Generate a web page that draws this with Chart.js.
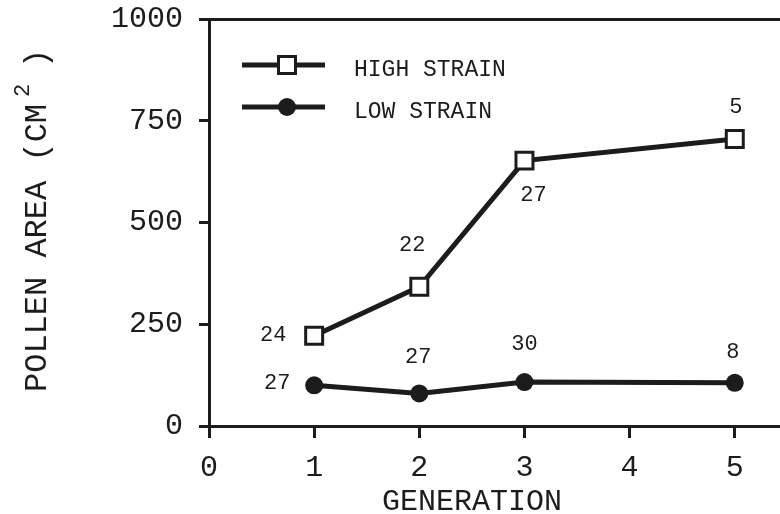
<!DOCTYPE html>
<html>
<head>
<meta charset="utf-8">
<script src="https://cdn.jsdelivr.net/npm/chart.js@4.4.1/dist/chart.umd.min.js"></script>
<style>
    html, body { margin: 0; padding: 0; background: #fff; }
    #wrap { width: 780px; height: 514px; position: relative; }
</style>
</head>
<body>
<div id="wrap"><canvas id="pollen-chart"></canvas></div>
<script>
// generations sampled and mean pollen area per strain
const generations = [1, 2, 3, 5];
const highStrain = [222, 342, 652, 705];
const lowStrain = [100, 80, 108, 106];
// sample sizes printed next to the points
const highN = ["24", "22", "27", "5"];
const lowN = ["27", "27", "30", "8"];
const xTicks = [0, 1, 2, 3, 4, 5];
const yTicks = [0, 250, 500, 750, 1000];

const INK = "#1c1c1c";
const MONO = "'Liberation Mono', 'DejaVu Sans Mono', monospace";

// offset (px) of each sample-size label from its point
const highLabelPos = [[-41, 0], [-7, -42], [9, 35], [1, -32]];
const lowLabelPos = [[-37, -2], [-1, -36], [0, -38], [-2, -31]];

const extras = {
    id: "extras",
    afterDatasetsDraw(chart) {
        const ctx = chart.ctx;
        const xs = chart.scales.x, ys = chart.scales.y;
        const area = chart.chartArea;
        ctx.save();
        ctx.fillStyle = INK;

        //sample size labels
        ctx.font = "22px " + MONO;
        ctx.textAlign = "center";
        ctx.textBaseline = "middle";
        const put = (vals, labels, pos) => vals.forEach((v, i) => {
            ctx.fillText(labels[i], xs.getPixelForValue(generations[i]) + pos[i][0], ys.getPixelForValue(v) + pos[i][1]);
        });
        put(highStrain, highN, highLabelPos);
        put(lowStrain, lowN, lowLabelPos);

        //legend inside the plot
        chart.data.datasets.forEach((ds, i) => {
            const y = area.top + 46 + i * 42;
            const x0 = area.left + 33, x1 = area.left + 116, xm = area.left + 78;
            ctx.strokeStyle = INK;
            ctx.lineWidth = 5;
            ctx.beginPath();
            ctx.moveTo(x0, y);
            ctx.lineTo(x1, y);
            ctx.stroke();
            if (ds.pointStyle === "rect") {
                ctx.fillStyle = "#fff";
                ctx.lineWidth = 3;
                ctx.fillRect(xm - 8.5, y - 8.5, 17, 17);
                ctx.strokeRect(xm - 8.5, y - 8.5, 17, 17);
            } else {
                ctx.fillStyle = INK;
                ctx.beginPath();
                ctx.arc(xm, y, 9, 0, Math.PI * 2);
                ctx.fill();
            }
            ctx.fillStyle = INK;
            ctx.font = "23px " + MONO;
            ctx.textAlign = "left";
            ctx.fillText(ds.label, area.left + 145, y + 5);
        });

        // x title, centred under the 0..5 range
        ctx.font = "30px " + MONO;
        ctx.textAlign = "center";
        ctx.fillText("GENERATION", xs.getPixelForValue(2.5), 502);

        // y title with superscript
        ctx.translate(38, 392);
        ctx.rotate(-Math.PI / 2);
        ctx.textAlign = "left";
        ctx.font = "32px " + MONO;
        const main = "POLLEN AREA (CM";
        ctx.fillText(main, 0, 0);
        const w = ctx.measureText(main).width;
        ctx.font = "22px " + MONO;
        ctx.fillText("2", w + 7, -15);
        ctx.font = "32px " + MONO;
        ctx.fillText(")", w + 36, 0);
        ctx.restore();
    }
};

new Chart(document.getElementById("pollen-chart"), {
    type: "line",
    data: {
        datasets: [{
            label: "HIGH STRAIN",
            data: generations.map((g, i) => ({ x: g, y: highStrain[i] })),
            borderColor: INK,
            borderWidth: 5,
            pointStyle: "rect",
            pointRadius: 12,
            pointBorderWidth: 3,
            pointBackgroundColor: "#fff",
            pointBorderColor: INK
        }, {
            label: "LOW STRAIN",
            data: generations.map((g, i) => ({ x: g, y: lowStrain[i] })),
            borderColor: INK,
            borderWidth: 5,
            pointStyle: "circle",
            pointRadius: 9,
            pointBorderWidth: 0,
            pointBackgroundColor: INK
        }]
    },
    options: {
        responsive: true,
        maintainAspectRatio: false,
        animation: false,
        layout: { autoPadding: false, padding: { top: 19, left: 0, right: 0, bottom: 0 } },
        scales: {
            x: {
                type: "linear",
                min: 0,
                max: 5.43,
                afterBuildTicks: (s) => { s.ticks = xTicks.map(v => ({ value: v })); },
                afterFit: (s) => { s.height = 88; s.paddingLeft = 0; s.paddingRight = 0; },
                ticks: { color: INK, font: { family: MONO, size: 30 }, padding: 12, callback: (v) => String(v) },
                grid: { drawOnChartArea: false, tickLength: 12, tickColor: INK, lineWidth: 3, tickWidth: 3 },
                border: { display: true, color: INK, width: 3 }
            },
            y: {
                min: 0,
                max: 1000,
                afterBuildTicks: (s) => { s.ticks = yTicks.map(v => ({ value: v })); },
                afterFit: (s) => { s.width = 209; s.paddingTop = 0; s.paddingBottom = 0; },
                ticks: { color: INK, font: { family: MONO, size: 30 }, padding: 16, callback: (v) => String(v) },
                grid: {
                    color: (c) => (c.tick && c.tick.value === 1000 ? INK : "rgba(0,0,0,0)"),
                    tickColor: INK,
                    tickLength: 10,
                    lineWidth: 3,
                    tickWidth: 3
                },
                border: { display: true, color: INK, width: 3 }
            }
        },
        plugins: {
            legend: { display: false },
            tooltip: { enabled: false }
        }
    },
    plugins: [extras]
});
</script>
</body>
</html>
